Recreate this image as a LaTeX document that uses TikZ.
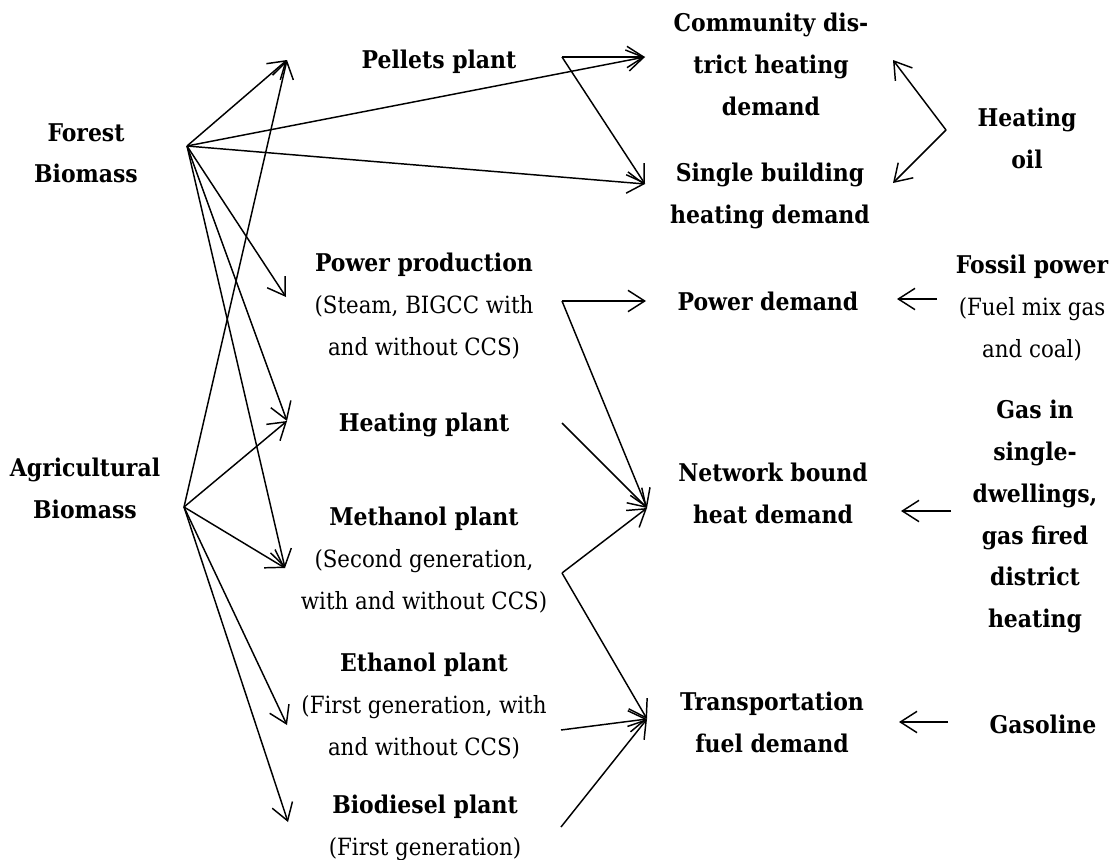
\documentclass[tikz,border=0pt]{standalone}
\usepackage{fontspec}
\setmainfont{DejaVu Serif Condensed}
\usetikzlibrary{arrows.meta}

\newcommand\plantname[1]{{\fontsize{18.3}{31.3}\selectfont\bfseries #1}}

\tikzset{
  flow/.style={draw, line width=1.1pt, -{Straight Barb[length=12.5pt,width=16pt]}},
  txt/.style={align=center, inner sep=0pt, anchor=north,
    font=\fontsize{17.8}{31.3}\selectfont},
  hd/.style={txt, font=\fontsize{18.3}{31.3}\selectfont\bfseries},
}

\begin{document}
\begin{tikzpicture}[x=0.75pt, y=-0.75pt]
\useasboundingbox (0,0) rectangle (1114,860);

% sources
\node[hd] (forest) at (86,123) {Forest\\Biomass};
\node[hd] (agri) at (85,458) {Agricultural\\Biomass};

% conversion plants
\node[hd] (pellets) at (439,50) {Pellets plant};
\node[txt] (power) at (424,253) {\plantname{Power production}\\(Steam, BIGCC with\\and without CCS)};
\node[hd] (heatpl) at (424,413) {Heating plant};
\node[txt] (methanol) at (424,507) {\plantname{Methanol plant}\\(Second generation,\\with and without CCS)};
\node[txt] (ethanol) at (424,653) {\plantname{Ethanol plant}\\(First generation, with\\and without CCS)};
\node[txt] (biodiesel) at (425,795) {\plantname{Biodiesel plant}\\(First generation)};

% demands
\node[hd] (community) at (771,13) {Community dis-\\trict heating\\demand};
\node[hd] (single) at (770,163) {Single building\\heating demand};
\node[hd] (powerdem) at (768,292) {Power demand};
\node[hd] (network) at (773,463) {Network bound\\heat demand};
\node[hd] (transport) at (772,692) {Transportation\\fuel demand};

% fossil alternatives
\node[hd] (oil) at (1027,108) {Heating\\oil};
\node[txt] (fossil) at (1032,255) {\plantname{Fossil power}\\(Fuel mix gas\\and coal)};
\node[hd] (gas) at (1035,400) {Gas in\\single-\\dwellings,\\gas fired\\district\\heating};
\node[hd] (gasoline) at (1043,715) {Gasoline};

% ports
\coordinate (fo) at (187,146);
\coordinate (ao) at (184,507);
\coordinate (pin) at (287,60);
\coordinate (pout) at (562,57);
\coordinate (pwin) at (286,297);
\coordinate (pwout) at (562,301);
\coordinate (hin) at (287,421);
\coordinate (hout) at (562,423);
\coordinate (min) at (285,568);
\coordinate (mout) at (562,573);
\coordinate (ein) at (287,725);
\coordinate (eout) at (561,730);
\coordinate (bin) at (288,822);
\coordinate (bout) at (561,827);
\coordinate (cin) at (645,57);
\coordinate (cout) at (893,60);
\coordinate (sin) at (645,184);
\coordinate (sout) at (893,183);
\coordinate (pdin) at (646,301);
\coordinate (pdout) at (897,299);
\coordinate (nin) at (647,508);
\coordinate (nout) at (901,511);
\coordinate (tin) at (647,719);
\coordinate (tout) at (899,722);
\coordinate (oilo) at (946,130);
\coordinate (fosso) at (937,299);
\coordinate (gaso) at (951,511);
\coordinate (gslo) at (948,722);

% forest biomass
\draw[flow] (fo) -- (pin);
\draw[flow] (fo) -- (cin);
\draw[flow] (fo) -- (sin);
\draw[flow] (fo) -- (pwin);
\draw[flow] (fo) -- (hin);
\draw[flow] (fo) -- (min);

% agricultural biomass
\draw[flow] (ao) -- (pin);
\draw[flow] (ao) -- (hin);
\draw[flow] (ao) -- (min);
\draw[flow] (ao) -- (ein);
\draw[flow] (ao) -- (bin);

% plants to demands
\draw[flow] (pout) -- (cin);
\draw[flow] (pout) -- (sin);
\draw[flow] (pwout) -- (pdin);
\draw[flow] (pwout) -- (nin);
\draw[flow] (hout) -- (nin);
\draw[flow] (mout) -- (nin);
\draw[flow] (mout) -- (tin);
\draw[flow] (eout) -- (tin);
\draw[flow] (bout) -- (tin);

% fossil alternatives
\draw[flow] (oilo) -- (cout);
\draw[flow] (oilo) -- (sout);
\draw[flow] (fosso) -- (pdout);
\draw[flow] (gaso) -- (nout);
\draw[flow] (gslo) -- (tout);
\end{tikzpicture}
\end{document}
